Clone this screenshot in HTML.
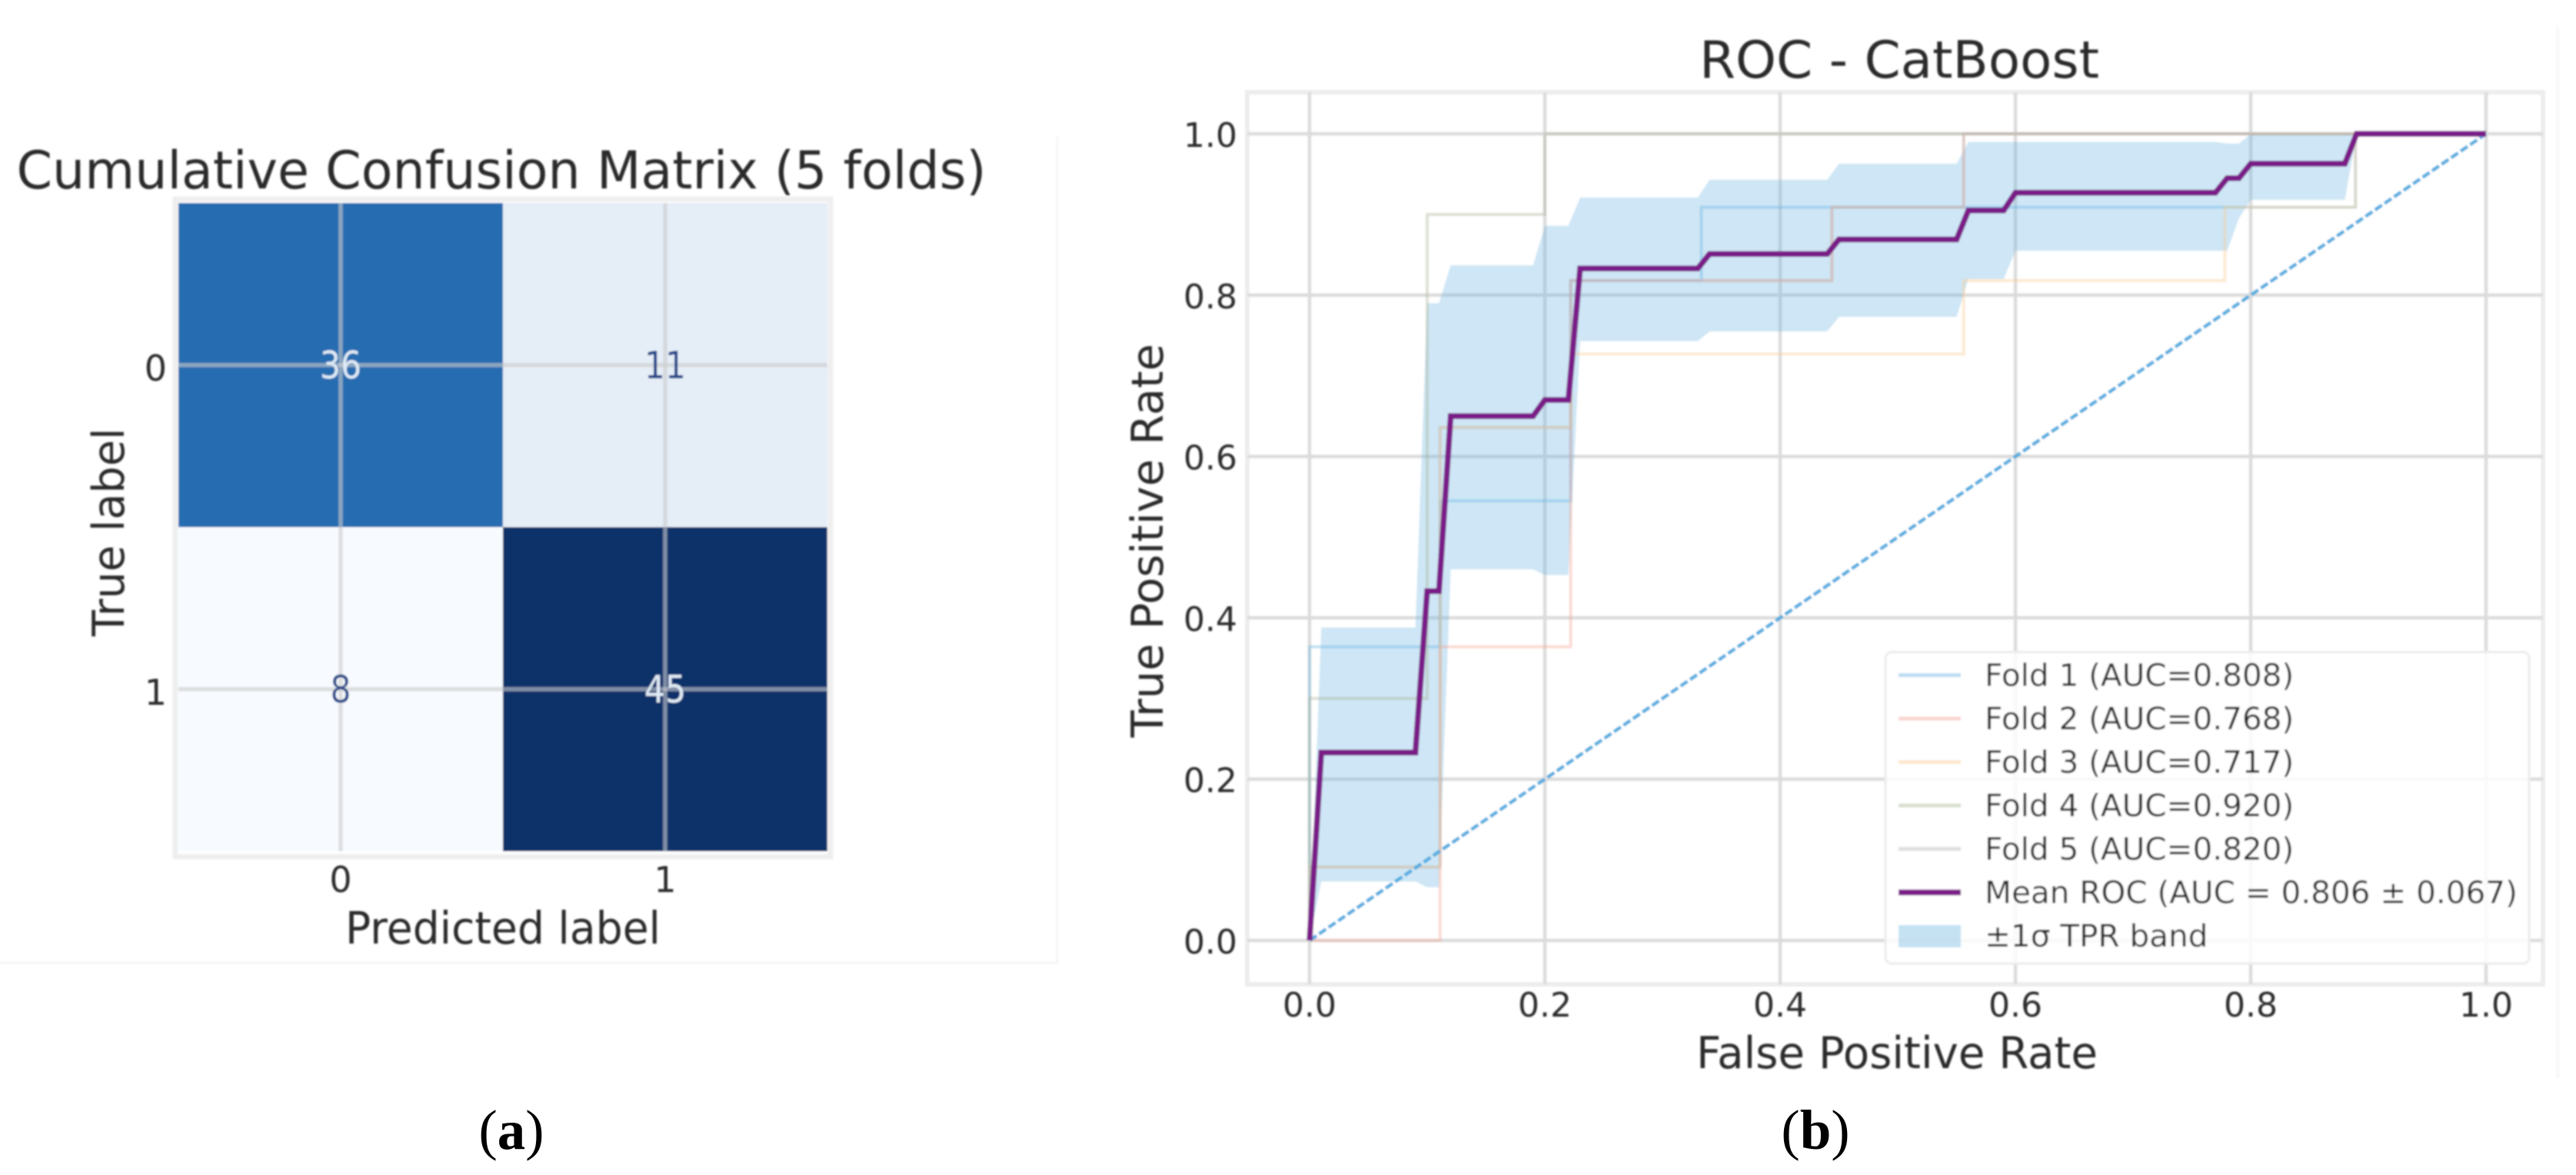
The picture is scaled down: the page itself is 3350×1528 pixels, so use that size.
<!DOCTYPE html>
<html lang="en">
<head>
<meta charset="utf-8">
<title>Confusion matrix and ROC - CatBoost</title>
<style>
html,body{margin:0;padding:0;background:#fff;width:3350px;height:1528px;overflow:hidden}
svg{display:block}
text{font-family:"DejaVu Sans","Liberation Sans",sans-serif;fill:#2c2c2c}
.cap{font-family:"Liberation Serif",serif;fill:#000;font-size:73px}
.soft{filter:url(#soft)}
</style>
</head>
<body>
<svg id="root" xmlns="http://www.w3.org/2000/svg" width="3350" height="1528" viewBox="0 0 3350 1528">
  <defs><filter id="soft" x="-2%" y="-2%" width="104%" height="104%"><feGaussianBlur stdDeviation="1.1"/></filter></defs>
  <g id="panelA" class="soft"></g>
  <g id="panelB" class="soft"></g>
  <text class="cap" x="665" y="1494" text-anchor="middle">(<tspan font-weight="bold">a</tspan>)</text>
  <text class="cap" x="2361" y="1494" text-anchor="middle">(<tspan font-weight="bold">b</tspan>)</text>
</svg>
<script>
// ---- Confusion matrix data ----
const cmClasses = ["0", "1"];
const cmValues = [[36, 11], [8, 45]];
const cmTitle = "Cumulative Confusion Matrix (5 folds)";

// ---- ROC data ----
const xTicks = [0, 0.2, 0.4, 0.6, 0.8, 1.0];
const yTicks = [0, 0.2, 0.4, 0.6, 0.8, 1.0];
const fold1X = [0, 0.111, 0.222, 0.333, 0.889, 1];
const fold1Y = [0.364, 0.545, 0.818, 0.909, 1];
const fold2X = [0, 0.111, 0.222, 0.444, 0.556, 1];
const fold2Y = [0, 0.364, 0.818, 0.909, 1];
const fold3X = [0, 0.111, 0.222, 0.556, 0.778, 0.889, 1];
const fold3Y = [0.091, 0.636, 0.727, 0.818, 0.909, 1];
const fold4X = [0, 0.1, 0.2, 1];
const fold4Y = [0.3, 0.9, 1];
const fold5X = [0, 0.111, 0.222, 0.444, 0.556, 1];
const fold5Y = [0.091, 0.636, 0.818, 0.909, 1];
const meanX = [0, 0.01, 0.09, 0.10, 0.11, 0.12, 0.19, 0.20, 0.22, 0.23, 0.33, 0.34, 0.44, 0.45, 0.55, 0.56, 0.59, 0.60, 0.77, 0.78, 0.79, 0.80, 0.88, 0.89, 1];
const meanY = [0, 0.233, 0.233, 0.433, 0.433, 0.65, 0.65, 0.67, 0.67, 0.833, 0.833, 0.851, 0.851, 0.869, 0.869, 0.905, 0.905, 0.927, 0.927, 0.945, 0.945, 0.963, 0.963, 1, 1];
const bandX = [0.01, 0.09, 0.10, 0.11, 0.12, 0.19, 0.20, 0.22, 0.23, 0.33, 0.34, 0.44, 0.45, 0.55, 0.56, 0.59, 0.60, 0.77, 0.78, 0.79, 0.80, 0.88];
const bandUpper = [0.388, 0.388, 0.79, 0.79, 0.837, 0.837, 0.886, 0.886, 0.921, 0.921, 0.943, 0.943, 0.963, 0.963, 0.99, 0.99, 0.99, 0.99, 0.988, 0.988, 1.0, 1.0];
const bandLower = [0.073, 0.073, 0.066, 0.066, 0.46, 0.46, 0.453, 0.453, 0.743, 0.743, 0.755, 0.755, 0.773, 0.773, 0.82, 0.82, 0.855, 0.855, 0.855, 0.895, 0.918, 0.918];
const legendLabels = ["Fold 1 (AUC=0.808)", "Fold 2 (AUC=0.768)", "Fold 3 (AUC=0.717)", "Fold 4 (AUC=0.920)", "Fold 5 (AUC=0.820)", "Mean ROC (AUC = 0.806 \u00b1 0.067)", "\u00b11\u03c3 TPR band"];

const NS = "http://www.w3.org/2000/svg";
function make(parent, tag, attrs, txt) {
  const el = document.createElementNS(NS, tag);
  for (const k in attrs) el.setAttribute(k, attrs[k]);
  if (txt !== undefined) el.textContent = txt;
  parent.appendChild(el);
  return el;
}
const panelA = document.getElementById("panelA");
const panelB = document.getElementById("panelB");

// ========== Panel A ==========
const cmLeft = 232, cmRight = 1076, cmTop = 264, cmBottom = 1107;
const cmW = (cmRight - cmLeft) / cmClasses.length, cmH = (cmBottom - cmTop) / cmClasses.length;
const flatCm = cmValues.flat();
const cmMin = Math.min(...flatCm), cmMax = Math.max(...flatCm);
const blueStops = [[247,251,255],[220,230,243],[198,219,239],[158,202,225],[107,174,214],[66,146,198],[42,110,178],[10,75,150],[13,48,107]];
function blues(t) {
  const p = Math.max(0, Math.min(1, t)) * (blueStops.length - 1), i = Math.min(Math.floor(p), blueStops.length - 2), f = p - i;
  const c = [0,1,2].map(j => Math.round(blueStops[i][j] + (blueStops[i+1][j] - blueStops[i][j]) * f));
  return "rgb(" + c.join(",") + ")";
}
function cmCx(i) { return cmLeft + cmW * (i + 0.5); }
function cmCy(i) { return cmTop + cmH * (i + 0.5); }

const panelAFrame = make(panelA, "path", {d: "M1375 178V1252H0", fill: "none", stroke: "#f5f5f5", "stroke-width": 3});


const cmSpine = make(panelA, "rect", {x: 228, y: 259, width: 852, height: 855, fill: "#fff", stroke: "#efefef", "stroke-width": 7});


cmValues.forEach((row, r) => row.forEach((v, c) => {
  const t = (v - cmMin) / (cmMax - cmMin);
  const cell = make(panelA, "rect", {x: cmLeft + c * cmW, y: cmTop + r * cmH, width: cmW, height: cmH, fill: blues(t)});
  
  
}));
cmClasses.forEach((lab, i) => {
  const vg = make(panelA, "line", {x1: cmCx(i), x2: cmCx(i), y1: cmTop, y2: cmBottom, stroke: "#ccc", "stroke-opacity": 0.6, "stroke-width": 5.5});
  
  
  const hg = make(panelA, "line", {x1: cmLeft, x2: cmRight, y1: cmCy(i), y2: cmCy(i), stroke: "#ccc", "stroke-opacity": 0.6, "stroke-width": 5.5});
  
  
  const xl = make(panelA, "text", {x: cmCx(i), y: 1160, "text-anchor": "middle", "font-size": 46}, lab);
  
  
  const yl = make(panelA, "text", {x: 217, y: cmCy(i) + 20, "text-anchor": "end", "font-size": 46}, lab);
  
  
});
cmValues.forEach((row, r) => row.forEach((v, c) => {
  const t = (v - cmMin) / (cmMax - cmMin);
  const s = String(v);
  const lbl = make(panelA, "text", {x: cmCx(c), y: cmCy(r) + 17, "text-anchor": "middle", "font-size": 49, textLength: 27 * s.length, lengthAdjust: "spacingAndGlyphs"}, s);
  lbl.style.fill = t > 0.5 ? "#dfeaf6" : "#234689";
  
  
}));
const cmTitleEl = make(panelA, "text", {x: 652, y: 245, "text-anchor": "middle", "font-size": 68, textLength: 1261, lengthAdjust: "spacingAndGlyphs"}, cmTitle);


const cmXTitle = make(panelA, "text", {x: 654, y: 1227, "text-anchor": "middle", "font-size": 58, textLength: 410, lengthAdjust: "spacingAndGlyphs"}, "Predicted label");


const cmYTitle = make(panelA, "text", {x: 0, y: 0, transform: "translate(161 692) rotate(-90)", "text-anchor": "middle", "font-size": 57, textLength: 271, lengthAdjust: "spacingAndGlyphs"}, "True label");



// ========== Panel B ==========
function sx(v) { return 1703 + 1530 * v; }
function sy(v) { return 1223 - 1049 * v; }
const axL = 1622, axR = 3307, axT = 120, axB = 1280;

const panelBFrame = make(panelB, "path", {d: "M3326 35V1402", fill: "none", stroke: "#f5f5f5", "stroke-width": 3});


const axFrame = make(panelB, "rect", {x: axL, y: axT, width: axR - axL, height: axB - axT, fill: "#fff", stroke: "#ededed", "stroke-width": 6});


xTicks.forEach(v => {
  const g = make(panelB, "line", {x1: sx(v), x2: sx(v), y1: axT, y2: axB, stroke: "#dcdcdc", "stroke-width": 4.5});
  
  
  const t = make(panelB, "text", {x: sx(v), y: 1322, "text-anchor": "middle", "font-size": 44}, v.toFixed(1));
  
  
});
yTicks.forEach(v => {
  const g = make(panelB, "line", {x1: axL, x2: axR, y1: sy(v), y2: sy(v), stroke: "#dcdcdc", "stroke-width": 4.5});
  
  
  const t = make(panelB, "text", {x: 1609, y: sy(v) + 17, "text-anchor": "end", "font-size": 44}, v.toFixed(1));
  
  
});

let bandPath = "M" + sx(0) + " " + sy(0);
bandX.forEach((x, i) => { bandPath += "L" + sx(x) + " " + sy(bandUpper[i]); });
bandPath += "L" + sx(0.89) + " " + sy(1);
for (let i = bandX.length - 1; i >= 0; i--) bandPath += "L" + sx(bandX[i]) + " " + sy(bandLower[i]);
bandPath += "Z";
const band = make(panelB, "path", {d: bandPath, fill: "#66b2e0", "fill-opacity": 0.32});



function stepPath(xs, ys) {
  let d = "M" + sx(xs[0]) + " " + sy(0);
  ys.forEach((y, i) => { d += "L" + sx(xs[i]) + " " + sy(y) + "L" + sx(xs[i + 1]) + " " + sy(y); });
  return d;
}
const foldColors = ["#6cb6e4", "#f6a596", "#fbcb92", "#a9b596", "#b9b9b9"];
const foldXs = [fold1X, fold2X, fold3X, fold4X, fold5X];
const foldYs = [fold1Y, fold2Y, fold3Y, fold4Y, fold5Y];
foldXs.forEach((xs, i) => {
  const p = make(panelB, "path", {d: stepPath(xs, foldYs[i]), fill: "none", stroke: foldColors[i], "stroke-opacity": 0.4, "stroke-width": 4});
  
  
});
const diag = make(panelB, "line", {x1: sx(0), y1: sy(0), x2: sx(1), y2: sy(1), stroke: "#55ade0", "stroke-width": 4.5, "stroke-dasharray": "11 4"});


const meanLine = make(panelB, "polyline", {points: meanX.map((x, i) => sx(x) + "," + sy(meanY[i])).join(" "), fill: "none", stroke: "#7a1d88", "stroke-width": 7.5, "stroke-linejoin": "miter"});



const rocTitle = make(panelB, "text", {x: 2470, y: 101, "text-anchor": "middle", "font-size": 67, textLength: 520, lengthAdjust: "spacingAndGlyphs"}, "ROC - CatBoost");


const rocX = make(panelB, "text", {x: 2467, y: 1389, "text-anchor": "middle", "font-size": 57, textLength: 522, lengthAdjust: "spacingAndGlyphs"}, "False Positive Rate");


const rocY = make(panelB, "text", {x: 0, y: 0, transform: "translate(1512 703) rotate(-90)", "text-anchor": "middle", "font-size": 57, textLength: 512, lengthAdjust: "spacingAndGlyphs"}, "True Positive Rate");



// Legend
const legendBox = make(panelB, "rect", {x: 2452, y: 848, width: 837, height: 405, rx: 8, fill: "#fff", "fill-opacity": 0.82, stroke: "#ececec", "stroke-width": 3});


const legendStep = 56.5, legendFirst = 878;
legendLabels.forEach((lab, i) => {
  const y = legendFirst + legendStep * i;
  if (i < 5) {
    const h = make(panelB, "line", {x1: 2469, x2: 2550, y1: y, y2: y, stroke: foldColors[i], "stroke-opacity": 0.45, "stroke-width": 5});
    
    
  } else if (i === 5) {
    const h = make(panelB, "line", {x1: 2469, x2: 2550, y1: y, y2: y, stroke: "#7a1d88", "stroke-width": 7.5});
    
    
  } else {
    const h = make(panelB, "rect", {x: 2469, y: y - 14, width: 81, height: 29, fill: "#66b2e0", "fill-opacity": 0.38});
    
    
  }
  const t = make(panelB, "text", {x: 2581, y: y + 14, "font-size": 40.5}, lab);
  
  
});
</script>
</body>
</html>
